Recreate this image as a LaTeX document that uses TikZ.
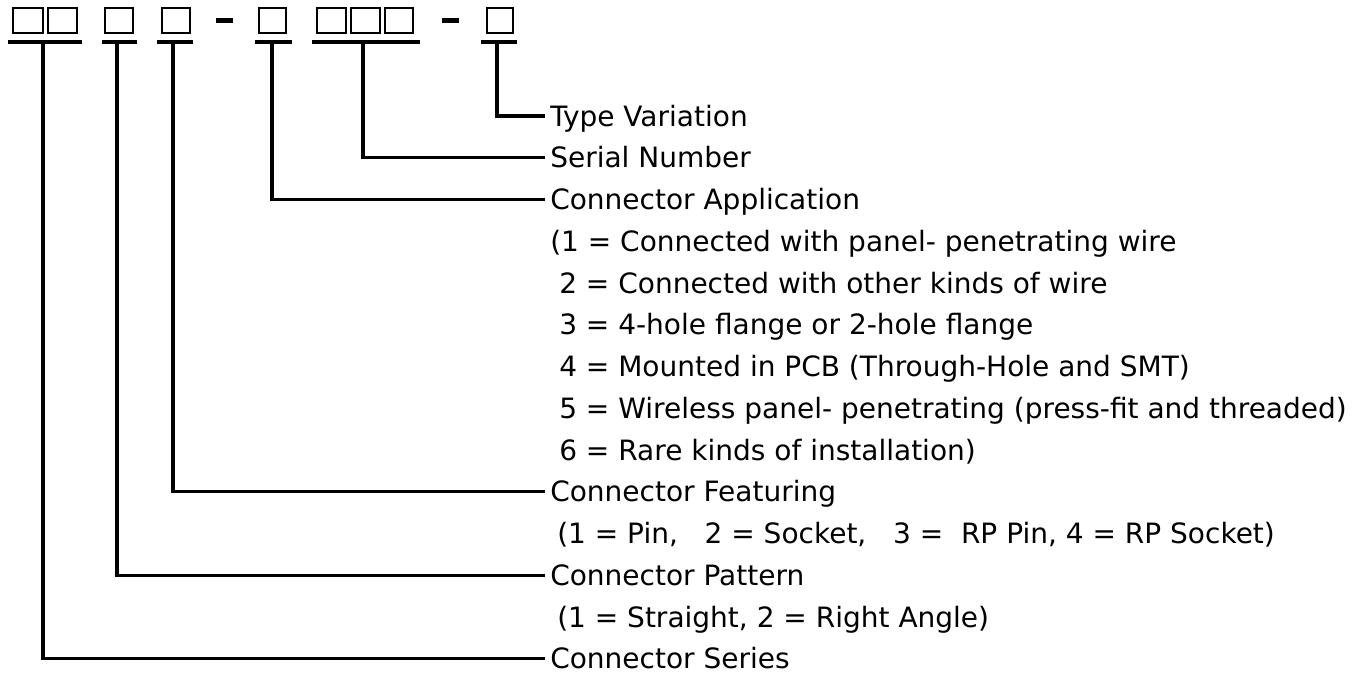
\documentclass[tikz,border=0pt]{standalone}
\usepackage{fontspec}
\setmainfont{DejaVu Sans}
\begin{document}
\begin{tikzpicture}[x=0.75pt,y=-0.75pt,
  boxline/.style={line width=1.6pt},
  underline/.style={line width=2.6pt},
  conn/.style={line width=2.5pt},
  lbl/.style={anchor=west,inner ysep=0pt,inner xsep=3.75pt,text height=15.3pt,text depth=0pt,font=\fontsize{21}{24}\selectfont}]
\useasboundingbox (0,0) rectangle (1372,675);
% code boxes
\foreach \a/\b in {13/43,48/77,105/133,162/190,259/286,317/346,351/380,385/413}
  \draw[boxline] (\a,8) rectangle (\b,33);
\draw[line width=1.9pt] (487,8) rectangle (513,33);
% dashes
\fill (216,18) rectangle (233,23);
\fill (442,18) rectangle (459,23);
% underlines
\draw[underline] (8,42) -- (82,42);
\draw[underline] (102,42) -- (137,42);
\draw[underline] (157,42) -- (193,42);
\draw[underline] (255,42) -- (292,42);
\draw[underline] (312,42) -- (420,42);
\draw[underline] (481,42) -- (517,42);
\coordinate (u1) at (43,42);
\coordinate (u2) at (117,42);
\coordinate (u3) at (173,42);
\coordinate (u4) at (272,42);
\coordinate (u5) at (363,42);
\coordinate (u6) at (497,42);
% labels
\node[lbl] (tv) at (545,116) {Type Variation};
\node[lbl] (sn) at (545,157.75) {Serial Number};
\node[lbl] (ca) at (545,199.5) {Connector Application};
\node[lbl] (ca1) at (545,241.25) {(1 = Connected with panel- penetrating wire};
\node[lbl] (ca2) at (554,283) {2 = Connected with other kinds of wire};
\node[lbl] (ca3) at (554,324.75) {3 = 4-hole flange or 2-hole flange};
\node[lbl] (ca4) at (554,366.5) {4 = Mounted in PCB (Through-Hole and SMT)};
\node[lbl] (ca5) at (554,408.25) {5 = Wireless panel- penetrating (press-fit and threaded)};
\node[lbl] (ca6) at (554,450) {6 = Rare kinds of installation)};
\node[lbl] (cf) at (545,491.75) {Connector Featuring};
\node[lbl] (cf1) at (552,533.5) {(1 = Pin,\ \ \ 2 = Socket,\ \ \ 3 =\ \ RP Pin, 4 = RP Socket)};
\node[lbl] (cp) at (545,575.25) {Connector Pattern};
\node[lbl] (cp1) at (552,617) {(1 = Straight, 2 = Right Angle)};
\node[lbl] (cs) at (545,658.75) {Connector Series};
% connectors
\draw[conn] (u6) |- (tv.west);
\draw[conn] (u5) |- (sn.west);
\draw[conn] (u4) |- (ca.west);
\draw[conn] (u3) |- (cf.west);
\draw[conn] (u2) |- (cp.west);
\draw[conn] (u1) |- (cs.west);
\end{tikzpicture}
\end{document}
